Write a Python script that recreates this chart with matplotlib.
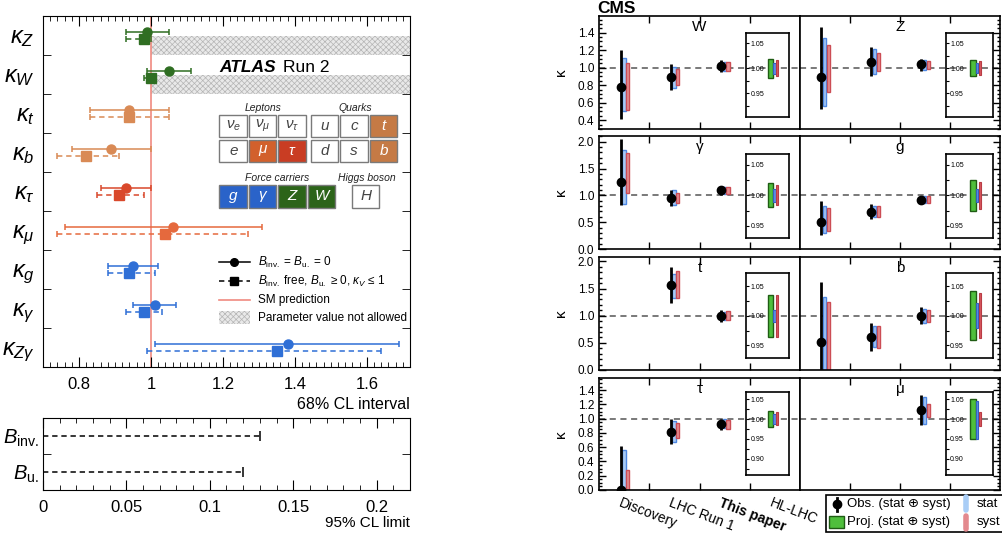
import numpy as np
import matplotlib
matplotlib.use('Agg')
import matplotlib.pyplot as plt
from matplotlib.patches import Rectangle
from matplotlib.ticker import MultipleLocator, FuncFormatter, FormatStrFormatter

nan = np.nan

# ---------------- ATLAS data (68% CL intervals) ----------------
atlas_labels = [r'$\kappa_{Z}$', r'$\kappa_{W}$', r'$\kappa_{t}$', r'$\kappa_{b}$', r'$\kappa_{\tau}$',
                r'$\kappa_{\mu}$', r'$\kappa_{g}$', r'$\kappa_{\gamma}$', r'$\kappa_{Z\gamma}$']
fixed_val = [0.99, 1.05, 0.94, 0.89, 0.93, 1.06, 0.95, 1.01, 1.38]
fixed_lo = [0.93, 0.99, 0.83, 0.78, 0.86, 0.76, 0.88, 0.95, 1.01]
fixed_hi = [1.05, 1.11, 1.05, 1.00, 1.00, 1.31, 1.02, 1.07, 1.69]
free_val = [0.98, 1.00, 0.94, 0.82, 0.91, 1.04, 0.94, 0.98, 1.35]
free_lo = [0.93, 0.98, 0.83, 0.74, 0.85, 0.74, 0.88, 0.93, 0.99]
free_hi = [1.00, 1.00, 1.05, 0.91, 0.98, 1.27, 1.01, 1.03, 1.64]
forbidden_rows = [0, 1]      # kappa_Z, kappa_W limited to <= 1 in the free fit
forbidden_from = 1.0
br_labels = [r'$B_{\mathrm{inv.}}$', r'$B_{\mathrm{u.}}$']
br_limits = [0.13, 0.12]

# ---------------- CMS data ----------------
cms_couplings = ['W', 'Z', 'γ', 'g', 't', 'b', 'τ', 'μ']
cms_eras = ['Discovery', 'LHC Run 1', 'This paper', 'HL-LHC']
obs_val = [[0.78, 0.89, 1.02], [0.89, 1.065, 1.04], [1.255, 0.955, 1.095], [0.51, 0.69, 0.92],
           [nan, 1.556, 1.00], [0.52, 0.61, 0.995], [0.00, 0.82, 0.93], [nan, nan, 1.126]]
obs_lo = [[0.41, 0.75, 0.945], [0.53, 0.90, 0.96], [0.82, 0.80, 1.01], [0.27, 0.556, 0.84],
          [nan, 1.24, 0.89], [-0.4, 0.35, 0.846], [-0.3, 0.65, 0.846], [nan, nan, 0.906]]
obs_hi = [[1.20, 1.04, 1.085], [1.47, 1.235, 1.10], [2.056, 1.105, 1.17], [0.887, 0.84, 0.99],
          [nan, 1.89, 1.105], [1.62, 0.87, 1.155], [0.613, 1.00, 1.00], [nan, nan, 1.326]]
stat_lo = [[0.50, 0.77, 0.96], [0.56, 0.925, 0.975], [0.84, 0.82, 1.025], [0.29, 0.59, 0.855],
           [nan, 1.32, 0.92], [-0.4, 0.43, 0.87], [-0.3, 0.67, 0.864], [nan, nan, 0.93]]
stat_hi = [[1.115, 1.01, 1.07], [1.34, 1.21, 1.09], [1.855, 1.095, 1.165], [0.81, 0.81, 0.98],
           [nan, 1.767, 1.075], [1.35, 0.81, 1.12], [0.566, 0.97, 0.995], [nan, nan, 1.31]]
syst_lo = [[0.52, 0.80, 0.96], [0.72, 0.96, 0.99], [1.04, 0.855, 1.03], [0.34, 0.59, 0.855],
           [nan, 1.32, 0.92], [-0.4, 0.41, 0.89], [-0.3, 0.73, 0.86], [nan, nan, 1.03]]
syst_hi = [[1.05, 0.99, 1.07], [1.255, 1.17, 1.08], [1.79, 1.04, 1.155], [0.76, 0.81, 0.99],
           [nan, 1.83, 1.087], [1.26, 0.81, 1.105], [0.28, 0.94, 0.986], [nan, nan, 1.21]]
# HL-LHC projections (insets)
proj_lo = [0.981, 0.984, 0.980, 0.975, 0.964, 0.959, 0.980, 0.950]
proj_hi = [1.019, 1.017, 1.020, 1.025, 1.036, 1.042, 1.021, 1.050]
pstat_lo = [0.989, 0.991, 0.989, 0.989, 0.990, 0.980, 0.988, 0.951]
pstat_hi = [1.011, 1.011, 1.010, 1.010, 1.010, 1.022, 1.013, 1.046]
psyst_lo = [0.984, 0.986, 0.984, 0.978, 0.964, 0.963, 0.986, 0.983]
psyst_hi = [1.017, 1.015, 1.017, 1.022, 1.035, 1.038, 1.017, 1.017]

# ---------------- style ----------------
plt.rcParams['font.family'] = ['Liberation Sans', 'DejaVu Sans']
plt.rcParams['mathtext.fontset'] = 'custom'
plt.rcParams['mathtext.rm'] = 'Liberation Sans'
plt.rcParams['mathtext.it'] = 'Liberation Sans:italic'
plt.rcParams['mathtext.bf'] = 'Liberation Sans:bold'
plt.rcParams['hatch.linewidth'] = 0.5

GREEN, TAN, TAU, MU, BLUE = '#2f6e22', '#d98a55', '#d9482b', '#e5693d', '#2f6fd6'
atlas_colors = [GREEN, GREEN, TAN, TAN, TAU, MU, BLUE, BLUE, BLUE]
SMRED = '#f08a80'
HATCH_FC, HATCH_EC = '#e9e9e9', '#b5b5b5'

W, H = 1003, 533
fig = plt.figure(figsize=(W / 100, H / 100), dpi=100)


def rect(x0, y0, x1, y1):
    # pixel box -> figure fraction
    return [x0 / W, 1 - y1 / H, (x1 - x0) / W, (y1 - y0) / H]


# ================= ATLAS main panel =================
ax = fig.add_axes(rect(43, 16, 410, 367))
n = len(atlas_labels)
xmax = 1.72
for r in forbidden_rows:
    ax.add_patch(Rectangle((forbidden_from, r), xmax - forbidden_from, 0.5, facecolor=HATCH_FC,
                           edgecolor=HATCH_EC, hatch='xxxxxx', lw=0, zorder=0))
ax.axvline(1.0, color=SMRED, lw=1.2, zorder=1)
for i in range(n):
    c = atlas_colors[i]
    ax.errorbar(fixed_val[i], i - 0.08, xerr=[[fixed_val[i] - fixed_lo[i]], [fixed_hi[i] - fixed_val[i]]],
                fmt='o', color=c, ms=6.5, lw=1.1, capsize=2.5, capthick=1.1, zorder=3)
    eb = ax.errorbar(free_val[i], i + 0.1, xerr=[[free_val[i] - free_lo[i]], [free_hi[i] - free_val[i]]],
                     fmt='s', color=c, ms=6.5, lw=1.1, capsize=2.5, capthick=1.1, zorder=3)
    eb[2][0].set_linestyle((0, (3.5, 2.5)))
ax.set_xlim(0.7, xmax)
ax.set_ylim(n - 0.5, -0.5)
ax.set_yticks(range(n))
ax.set_yticklabels(atlas_labels, fontsize=17)
ax.set_yticks(np.arange(0.5, n - 1, 1), minor=True)
ax.tick_params(axis='y', which='major', length=0, pad=6)
ax.tick_params(axis='y', which='minor', direction='in', length=6, left=True, right=True)
ax.xaxis.set_major_locator(MultipleLocator(0.2))
ax.xaxis.set_minor_locator(MultipleLocator(0.02))
ax.xaxis.set_major_formatter(FuncFormatter(lambda v, p: '%g' % round(v, 2)))
ax.tick_params(axis='x', which='both', direction='in', top=True, labelsize=12)
ax.tick_params(axis='x', which='major', length=7, pad=7)
ax.tick_params(axis='x', which='minor', length=3.5)
ax.set_xlabel('68% CL interval', loc='right', fontsize=11.5, labelpad=4)
ax.text(1.19, 0.81, 'ATLAS', fontsize=12.5, fontweight='bold', fontstyle='italic', va='center')
ax.text(1.366, 0.81, 'Run 2', fontsize=12.5, va='center')

# ================= ATLAS branching-ratio panel =================
axb = fig.add_axes(rect(43, 418, 410, 490))
for i, lim in enumerate(br_limits):
    eb = axb.errorbar(lim, i, xerr=[[lim], [0]], fmt='none', color='black', lw=1.1,
                      capsize=3.5, capthick=1.1)
    eb[2][0].set_linestyle((0, (3.5, 2.5)))
axb.set_xlim(0, 0.22)
axb.set_ylim(1.5, -0.5)
axb.set_yticks(range(len(br_labels)))
axb.set_yticklabels(br_labels, fontsize=14.5)
axb.set_yticks([0.5], minor=True)
axb.tick_params(axis='y', which='major', length=0, pad=3)
axb.tick_params(axis='y', which='minor', direction='in', length=6, left=True, right=True)
axb.xaxis.set_major_locator(MultipleLocator(0.05))
axb.xaxis.set_minor_locator(MultipleLocator(0.01))
axb.xaxis.set_major_formatter(FuncFormatter(lambda v, p: '%g' % round(v, 3)))
axb.tick_params(axis='x', which='both', direction='in', top=True, labelsize=12)
axb.tick_params(axis='x', which='major', length=7, pad=7)
axb.tick_params(axis='x', which='minor', length=3.5)
axb.set_xlabel('95% CL limit', loc='right', fontsize=11, labelpad=1)

# ================= CMS panels =================
row_px = [(16, 129), (136, 249), (257, 370), (378, 490)]
col_px = [(599, 800), (800, 1000)]
row_ylim = [(0.3, 1.59), (0, 2.107), (0, 2.08), (0, 1.57)]
row_major = [0.2, 0.5, 0.5, 0.2]
row_minor = [0.05, 0.1, 0.1, 0.05]
inset_col_px = [(746.5, 789), (946, 993)]
inset_row_px = [(32.7, 117), (153.7, 238), (273.3, 357.7), (391.5, 475)]
inset_ylim = [(0.902, 1.0706), (0.930, 1.068), (0.929, 1.072), (0.859, 1.070)]

STAT_FC, STAT_EC = '#a9cbf4', '#4f88e2'
SYST_FC, SYST_EC = '#e48f93', '#cc4d55'

for k, name in enumerate(cms_couplings):
    r, c = divmod(k, 2)
    (x0, x1), (y0, y1) = col_px[c], row_px[r]
    a = fig.add_axes(rect(x0, y0, x1, y1))
    a.axhline(1.0, color='#555555', ls=(0, (4, 3)), lw=1.1, zorder=1)
    for e in range(3):
        v = obs_val[k][e]
        if np.isnan(v):
            continue
        a.add_patch(Rectangle((e + 0.46, stat_lo[k][e]), 0.07, stat_hi[k][e] - stat_lo[k][e],
                              facecolor=STAT_FC, edgecolor=STAT_EC, lw=1, zorder=2))
        a.add_patch(Rectangle((e + 0.535, syst_lo[k][e]), 0.065, syst_hi[k][e] - syst_lo[k][e],
                              facecolor=SYST_FC, edgecolor=SYST_EC, lw=1, zorder=2))
        a.errorbar(e + 0.43, v, yerr=[[v - obs_lo[k][e]], [obs_hi[k][e] - v]], fmt='o', color='black',
                   ms=6, lw=2, capsize=0, zorder=3)
    a.set_xlim(0, 4)
    a.set_ylim(*row_ylim[r])
    a.set_xticks([1, 2, 3])
    a.yaxis.set_major_locator(MultipleLocator(row_major[r]))
    a.yaxis.set_minor_locator(MultipleLocator(row_minor[r]))
    a.yaxis.set_major_formatter(FormatStrFormatter('%.1f'))
    a.tick_params(which='both', direction='in', left=(c == 0), right=(c == 1), top=True, bottom=True,
                  labelbottom=False, labelsize=8.5, width=1)
    a.tick_params(which='major', length=5)
    a.tick_params(which='minor', length=2.5)
    for s in a.spines.values():
        s.set_linewidth(1.2)
    if c == 0:
        a.set_ylabel('κ', fontsize=11, labelpad=7)
    else:
        a.tick_params(labelleft=False)
    if r == 3 and c == 0:
        a.set_xticks([e + 0.45 for e in range(4)], labels=cms_eras, minor=True)
        a.tick_params(axis='x', which='minor', length=0, labelbottom=True, labelsize=10, pad=4)
        for lab in a.get_xticklabels(minor=True):
            lab.set_rotation(-21)
            lab.set_ha('left')
            lab.set_va('top')
            lab.set_rotation_mode('anchor')
            if lab.get_text() == 'This paper':
                lab.set_fontweight('bold')
    a.text(0.5, 1 - 11 / (y1 - y0), name, transform=a.transAxes, ha='center', va='center', fontsize=11)

    # HL-LHC inset
    (ix0, ix1), (iy0, iy1) = inset_col_px[c], inset_row_px[r]
    ins = fig.add_axes(rect(ix0, iy0, ix1, iy1))
    ins.patch.set_alpha(0)
    ins.add_patch(Rectangle((0.51, proj_lo[k]), 0.12, proj_hi[k] - proj_lo[k],
                            facecolor='#4fbf3c', edgecolor='#1f5c14', lw=1))
    ins.add_patch(Rectangle((0.63, pstat_lo[k]), 0.055, pstat_hi[k] - pstat_lo[k],
                            facecolor='#5b8ee6', edgecolor='#3461c4', lw=0.8))
    ins.add_patch(Rectangle((0.695, psyst_lo[k]), 0.055, psyst_hi[k] - psyst_lo[k],
                            facecolor='#d85860', edgecolor='#b93c44', lw=0.8))
    ins.set_xlim(0, 1)
    ins.set_ylim(*inset_ylim[r])
    ins.set_xticks([])
    ins.yaxis.set_major_locator(MultipleLocator(0.05))
    ins.yaxis.set_minor_locator(MultipleLocator(0.025))
    ins.yaxis.set_major_formatter(FormatStrFormatter('%.2f'))
    ins.tick_params(axis='y', which='both', direction='in', labelsize=5, pad=-3, width=0.8)
    ins.tick_params(axis='y', which='major', length=2.5)
    ins.tick_params(axis='y', which='minor', length=2.5)
    for lab in ins.get_yticklabels():
        lab.set_ha('left')
    for s in ins.spines.values():
        s.set_linewidth(1.2)

fig.text(597 / W, 1 - 8.5 / H, 'CMS', fontsize=12.5, fontweight='bold', ha='left', va='center')

# ================= decorations in pixel coordinates =================
ov = fig.add_axes([0, 0, 1, 1], zorder=10)
ov.set_xlim(0, W)
ov.set_ylim(H, 0)
ov.axis('off')

# particle table
cell_w, cell_h = 27.5, 22.5
cells = [
    (219.5, 114.5, r'$\nu_e$', None), (249, 114.5, r'$\nu_\mu$', None), (278.5, 114.5, r'$\nu_\tau$', None),
    (311, 114.5, 'u', None), (340.5, 114.5, 'c', None), (370, 114.5, 't', '#c57a45'),
    (219.5, 139.5, 'e', None), (249, 139.5, r'$\mu$', '#d2602c'), (278.5, 139.5, r'$\tau$', '#c93d23'),
    (311, 139.5, 'd', None), (340.5, 139.5, 's', None), (370, 139.5, 'b', '#c57a45'),
    (219.5, 185, 'g', '#2a63c9'), (249, 185, r'$\gamma$', '#2a63c9'),
    (278.5, 185, 'Z', '#2c6419'), (308, 185, 'W', '#2c6419'), (352, 185, 'H', None),
]
for cx, cy, lab, fc in cells:
    ov.add_patch(Rectangle((cx, cy), cell_w, cell_h, facecolor=fc if fc else 'white',
                           edgecolor='#7a7a7a', lw=1))
    ov.text(cx + cell_w / 2, cy + cell_h / 2, lab, ha='center', va='center', fontsize=11,
            fontstyle='italic', color='white' if fc else '#444444')
for tx, ty, lab in [(263.5, 108, 'Leptons'), (355, 108, 'Quarks'),
                    (277, 178, 'Force carriers'), (366.5, 178, 'Higgs boson')]:
    ov.text(tx, ty, lab, ha='center', va='center', fontsize=7.5, fontstyle='italic', color='#222222')

# ATLAS legend
ov.plot([219, 250], [262, 262], color='black', lw=1.1)
ov.plot([234.5], [262], 'o', color='black', ms=5.5)
ov.plot([219, 250], [281, 281], color='black', lw=1.1, ls=(0, (3.5, 2.5)))
ov.plot([234.5], [281], 's', color='black', ms=5.5)
ov.plot([219, 250], [299.5, 299.5], color=SMRED, lw=1.2)
ov.add_patch(Rectangle((219, 311), 31, 13, facecolor=HATCH_FC, edgecolor=HATCH_EC, hatch='xxxxxx', lw=0))
ov.text(258, 262, r'$B_{\mathrm{inv.}}$ = $B_{\mathrm{u.}}$ = 0', fontsize=8.5, va='center')
ov.text(258, 281, r'$B_{\mathrm{inv.}}$ free, $B_{\mathrm{u.}}$ ≥ 0, $\kappa_{V}$ ≤ 1', fontsize=8.5, va='center')
ov.text(258, 299.5, 'SM prediction', fontsize=8.5, va='center')
ov.text(258, 318, 'Parameter value not allowed', fontsize=8.5, va='center')

# CMS legend
ov.add_patch(Rectangle((826, 495), 200, 37, facecolor='white', edgecolor='black', lw=1.2, clip_on=False))
ov.plot([836.7, 836.7], [497.5, 511], color='black', lw=2)
ov.plot([836.7], [504], 'o', color='black', ms=6)
ov.text(847.5, 504, 'Obs. (stat ⊕ syst)', fontsize=9.5, va='center')
ov.add_patch(Rectangle((829, 515.5), 15, 12.5, facecolor='#4fbf3c', edgecolor='#1f5c14', lw=1))
ov.text(847.5, 522, 'Proj. (stat ⊕ syst)', fontsize=9.5, va='center')
ov.plot([966.5, 966.5], [497, 510], color='#a9cdf6', lw=4, solid_capstyle='round')
ov.plot([966.5, 966.5], [516, 529], color='#e3898e', lw=4, solid_capstyle='round')
ov.text(976.5, 504, 'stat', fontsize=9.5, va='center')
ov.text(976.5, 522, 'syst', fontsize=9.5, va='center')

fig.savefig('out.png', dpi=100)
